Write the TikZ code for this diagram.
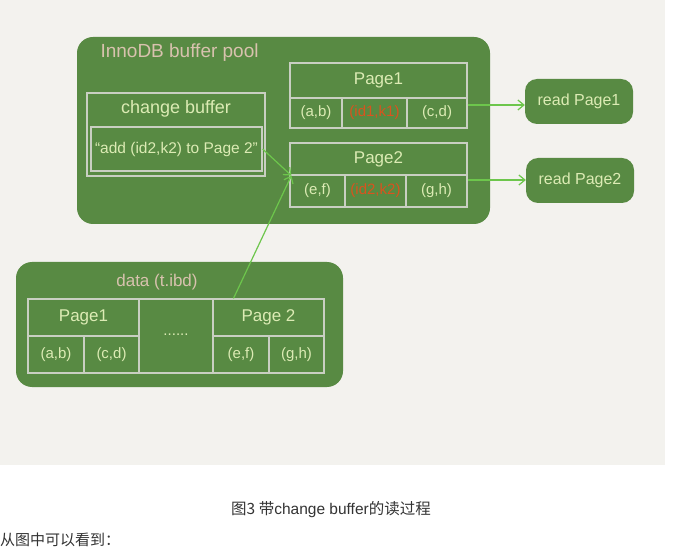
\documentclass[tikz,border=0pt]{standalone}
\usepackage{fontspec}
\setmainfont{Liberation Sans}
\newfontfamily\cjk{Noto Sans CJK SC}
\usetikzlibrary{arrows.meta}
\definecolor{bggray}{HTML}{F3F2EE}
\definecolor{poolgreen}{HTML}{588A43}
\definecolor{linegray}{HTML}{C9CFC2}
\definecolor{paletext}{HTML}{DCEBB4}
\definecolor{pinktext}{HTML}{D8C2AE}
\definecolor{redtext}{HTML}{D9531E}
\definecolor{arrowgreen}{HTML}{6DC64C}
\definecolor{captext}{HTML}{333333}
\tikzset{
  pool/.style={fill=poolgreen, draw=none, rounded corners=16pt},
  readbox/.style={fill=poolgreen, draw=none, rounded corners=12pt, text=paletext, font=\fontsize{16}{16}\selectfont},
  cell/.style={draw=linegray, line width=1.2pt, inner sep=0pt, text=paletext, font=\fontsize{15}{15}\selectfont},
  head/.style={cell, font=\fontsize{17}{17}\selectfont},
  redcell/.style={cell, text=redtext},
  flow/.style={draw=arrowgreen, line width=1.2pt, -{Straight Barb[length=6pt,width=10pt]}},
}
\begin{document}
\begin{tikzpicture}[x=1pt,y=-1pt]
\useasboundingbox (0,0) rectangle (686,548);
\fill[bggray] (0,0) rectangle (665,465);

% buffer pool
\path[pool] (77,37) rectangle (490,224);
\node[text=pinktext, font=\fontsize{19}{19}\selectfont, anchor=west] (pooltitle) at (97,53) {InnoDB buffer pool};

% buffer Page1
\node[head, minimum width=177pt, minimum height=35pt] (bp1h) at (378.5,80.5) {Page1};
\node[cell, minimum width=52pt, minimum height=30pt] (bp1a) at (316,113) {(a,b)};
\node[redcell, minimum width=65pt, minimum height=30pt] (bp1b) at (374.5,113) {(id1,k1)};
\node[cell, minimum width=60pt, minimum height=30pt] (bp1c) at (437,113) {(c,d)};

% buffer Page2
\node[head, minimum width=177pt, minimum height=32pt] (bp2h) at (378.5,159) {Page2};
\node[cell, minimum width=55pt, minimum height=32pt] (bp2a) at (317.5,191) {(e,f)};
\node[redcell, minimum width=61pt, minimum height=32pt] (bp2b) at (375.5,191) {(id2,k2)};
\node[cell, minimum width=61pt, minimum height=32pt] (bp2c) at (436.5,191) {(g,h)};

% change buffer
\node[cell, minimum width=178pt, minimum height=83pt] (cbox) at (176,134.5) {};
\node[text=paletext, font=\fontsize{18}{18}\selectfont] (ctitle) at (176,109) {change buffer};
\node[cell, minimum width=171pt, minimum height=44pt, font=\fontsize{15.5}{15.5}\selectfont] (cinner) at (176.5,149) {``add (id2,k2) to Page 2''};

% read boxes
\node[readbox, minimum width=108pt, minimum height=45pt] (r1) at (579,101.5) {read Page1};
\node[readbox, minimum width=108pt, minimum height=45pt] (r2) at (580,180.5) {read Page2};

% data
\path[pool] (16,262) rectangle (343,387);
\node[text=pinktext, font=\fontsize{17}{17}\selectfont] (dtitle) at (157,282) {data (t.ibd)};
\node[head, minimum width=111pt, minimum height=37pt] (dp1h) at (83.5,317.5) {Page1};
\node[cell, minimum width=56pt, minimum height=37pt] (dp1a) at (56,354.5) {(a,b)};
\node[cell, minimum width=55pt, minimum height=37pt] (dp1b) at (111.5,354.5) {(c,d)};
\node[cell, minimum width=74pt, minimum height=74pt] (dmid) at (176,336) {\raisebox{2pt}{......}};
\node[head, minimum width=111pt, minimum height=37pt] (dp2h) at (268.5,317.5) {Page 2};
\node[cell, minimum width=56pt, minimum height=37pt] (dp2a) at (241,354.5) {(e,f)};
\node[cell, minimum width=55pt, minimum height=37pt] (dp2b) at (296.5,354.5) {(g,h)};

% arrows
\coordinate (tgt) at (bp2h.south west);
\draw[flow] (cinner.east) -- ([xshift=2pt]tgt);
\draw[flow] ([xshift=-35pt]dp2h.north) -- ([xshift=2pt]tgt);
\draw[flow] (bp1c.east |- 0,105) -- (r1.west |- 0,105);
\draw[flow] (bp2c.east |- 0,180) -- (r2.west |- 0,180);

% caption
\node[text=captext, font=\cjk\fontsize{15.5}{15.5}\selectfont] (cap) at (331,510) {图3 带{\fontspec{Liberation Sans}change buffer}的读过程};
\node[text=captext, font=\cjk\fontsize{15}{15}\selectfont, anchor=west, inner sep=0pt] (note) at (0,540) {从图中可以看到：};
\end{tikzpicture}
\end{document}
